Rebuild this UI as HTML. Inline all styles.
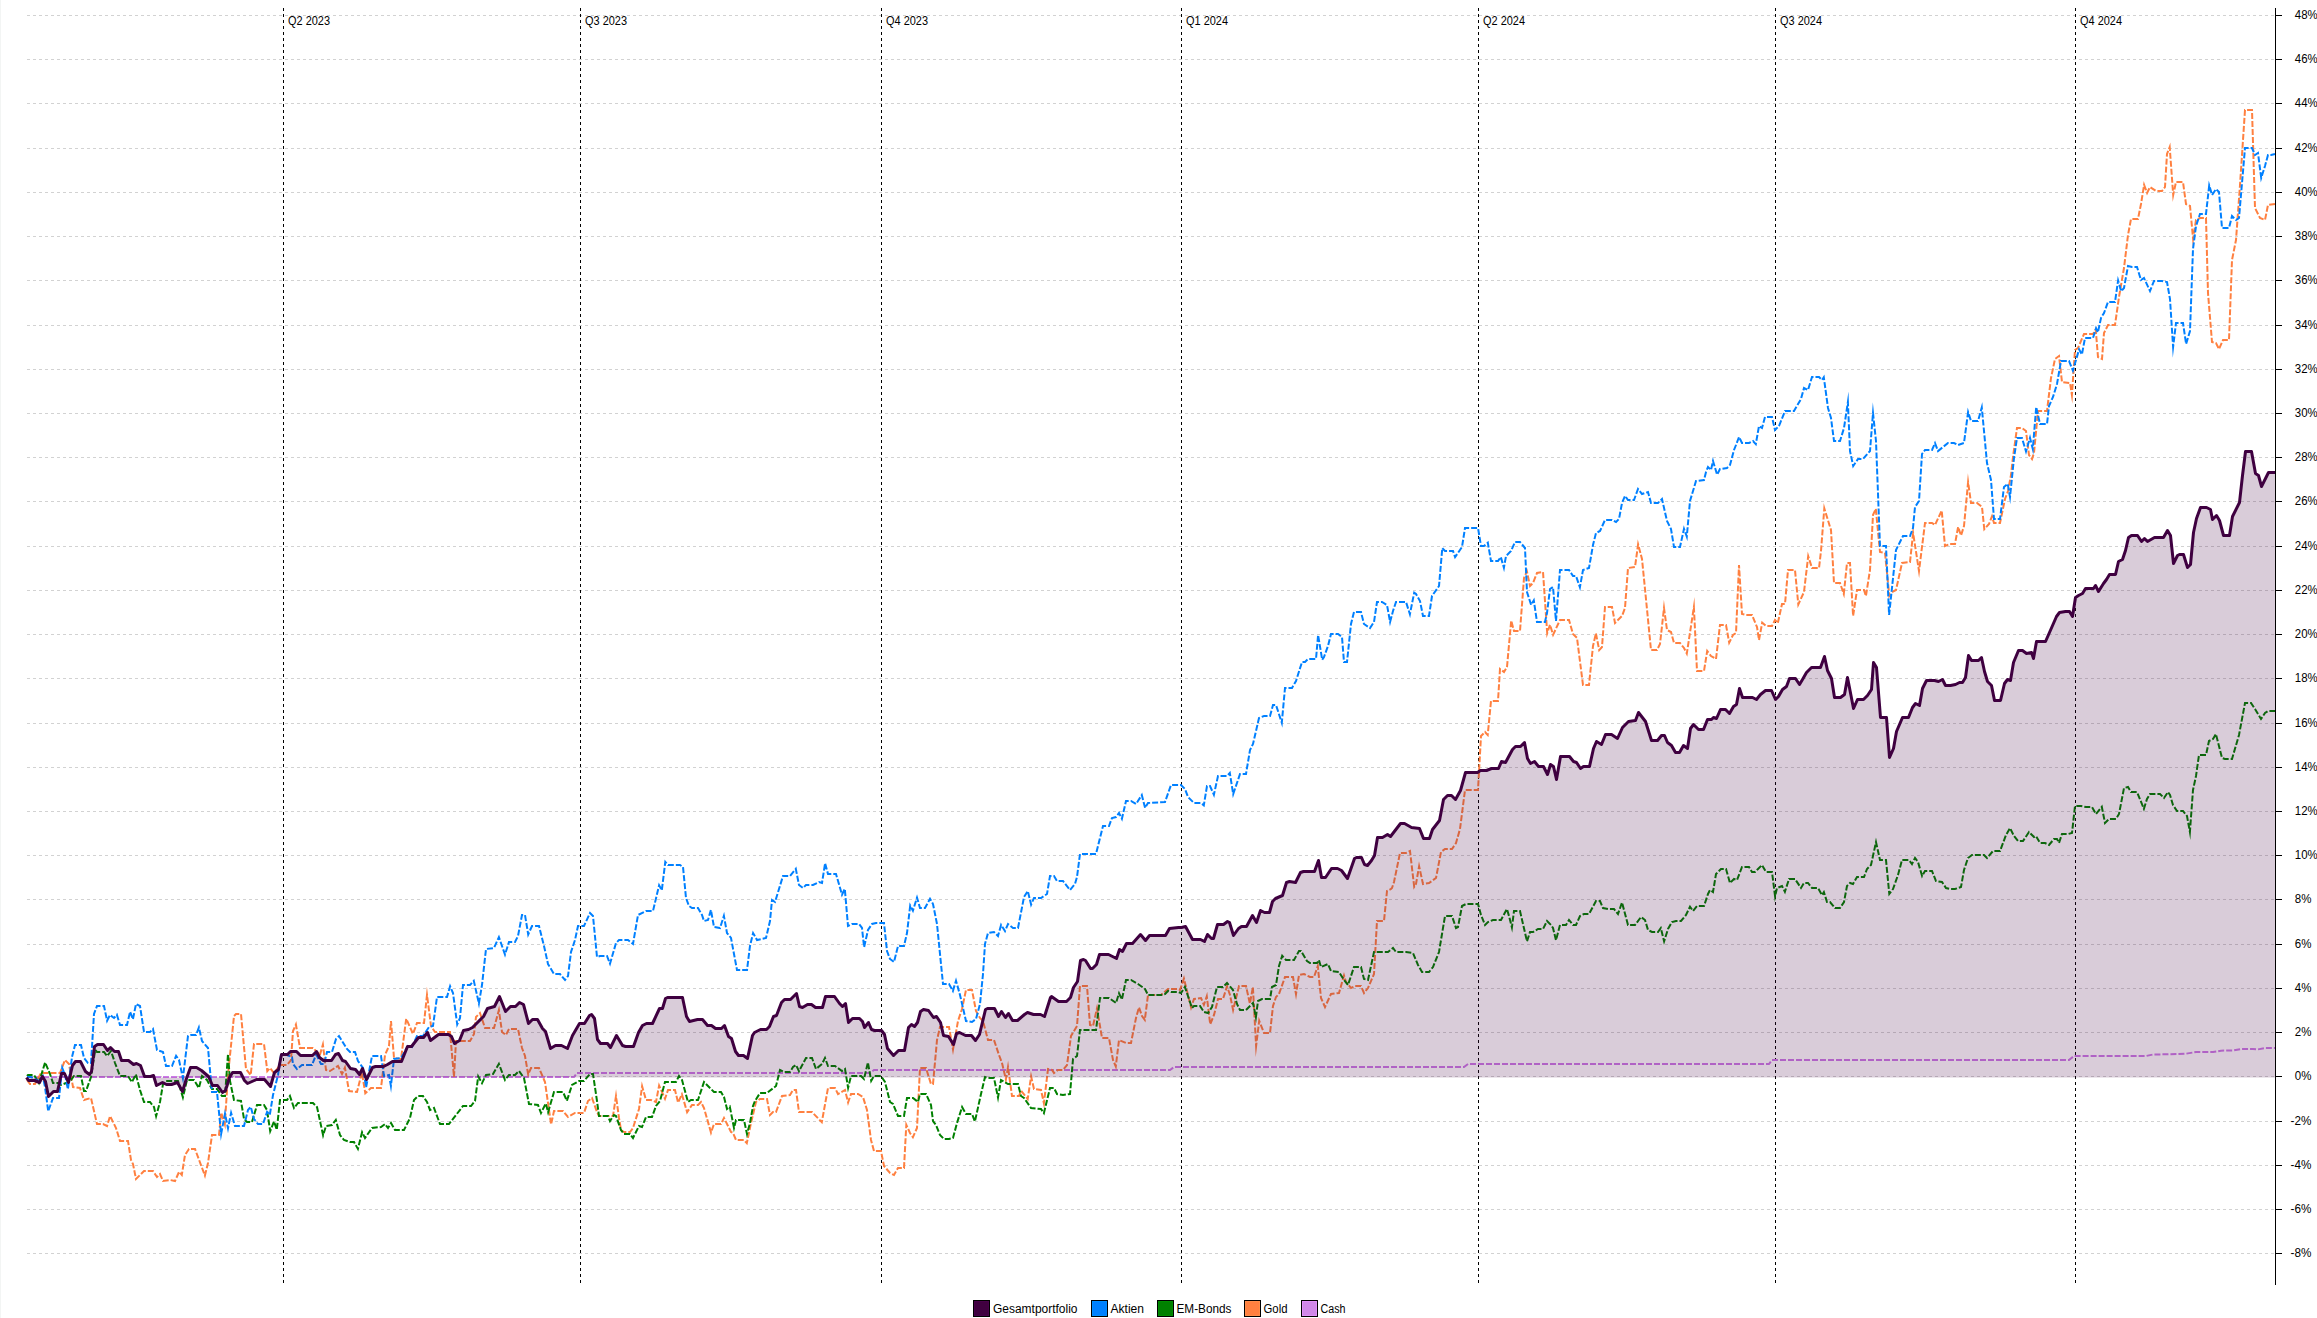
<!DOCTYPE html>
<html><head><meta charset="utf-8"><title>Performance</title>
<style>
html,body{margin:0;padding:0;background:#fff;}
body{width:2317px;height:1318px;overflow:hidden;font-family:"Liberation Sans",sans-serif;}
svg{display:block}
text{font-family:"Liberation Sans",sans-serif;font-size:12px;fill:#000}
.ser{fill:none;stroke-width:2;stroke-dasharray:6 2;stroke-linejoin:miter;stroke-miterlimit:12}
</style></head><body>
<svg width="2317" height="1318" viewBox="0 0 2317 1318">
<rect width="2317" height="1318" fill="#fff"/>
<rect x="0" y="0" width="1" height="1318" fill="#f3f5f4"/>

<g stroke="#d2d2d2" stroke-width="1" stroke-dasharray="3 3" shape-rendering="crispEdges">
<line x1="27" y1="15.5" x2="2275" y2="15.5"/>
<line x1="27" y1="59.5" x2="2275" y2="59.5"/>
<line x1="27" y1="103.5" x2="2275" y2="103.5"/>
<line x1="27" y1="148.5" x2="2275" y2="148.5"/>
<line x1="27" y1="192.5" x2="2275" y2="192.5"/>
<line x1="27" y1="236.5" x2="2275" y2="236.5"/>
<line x1="27" y1="280.5" x2="2275" y2="280.5"/>
<line x1="27" y1="325.5" x2="2275" y2="325.5"/>
<line x1="27" y1="369.5" x2="2275" y2="369.5"/>
<line x1="27" y1="413.5" x2="2275" y2="413.5"/>
<line x1="27" y1="457.5" x2="2275" y2="457.5"/>
<line x1="27" y1="501.5" x2="2275" y2="501.5"/>
<line x1="27" y1="546.5" x2="2275" y2="546.5"/>
<line x1="27" y1="590.5" x2="2275" y2="590.5"/>
<line x1="27" y1="634.5" x2="2275" y2="634.5"/>
<line x1="27" y1="678.5" x2="2275" y2="678.5"/>
<line x1="27" y1="723.5" x2="2275" y2="723.5"/>
<line x1="27" y1="767.5" x2="2275" y2="767.5"/>
<line x1="27" y1="811.5" x2="2275" y2="811.5"/>
<line x1="27" y1="855.5" x2="2275" y2="855.5"/>
<line x1="27" y1="899.5" x2="2275" y2="899.5"/>
<line x1="27" y1="944.5" x2="2275" y2="944.5"/>
<line x1="27" y1="988.5" x2="2275" y2="988.5"/>
<line x1="27" y1="1032.5" x2="2275" y2="1032.5"/>
<line x1="27" y1="1076.5" x2="2275" y2="1076.5"/>
<line x1="27" y1="1121.5" x2="2275" y2="1121.5"/>
<line x1="27" y1="1165.5" x2="2275" y2="1165.5"/>
<line x1="27" y1="1209.5" x2="2275" y2="1209.5"/>
<line x1="27" y1="1253.5" x2="2275" y2="1253.5"/>
</g>
<g stroke="#000" stroke-width="1" stroke-dasharray="3 3" shape-rendering="crispEdges">
<line x1="283.5" y1="8" x2="283.5" y2="1284"/>
<line x1="580.5" y1="8" x2="580.5" y2="1284"/>
<line x1="881.5" y1="8" x2="881.5" y2="1284"/>
<line x1="1181.5" y1="8" x2="1181.5" y2="1284"/>
<line x1="1478.5" y1="8" x2="1478.5" y2="1284"/>
<line x1="1775.5" y1="8" x2="1775.5" y2="1284"/>
<line x1="2075.5" y1="8" x2="2075.5" y2="1284"/>
</g>
<polyline class="ser" stroke="#cc7be6" points="27,1077 574,1077 577,1073 870,1073 874,1070 1170,1070 1174,1067 1464,1067 1468,1064 1769,1064 1772,1060 2069,1060 2074,1056 2146,1056 2153,1054.5 2168,1054.3 2186,1053.7 2196,1052 2213,1052 2221,1050.7 2233,1050.4 2241,1049 2253,1049 2258,1049.4 2265,1048 2275,1048"/>
<polyline class="ser" stroke="#ff8040" points="27,1080 30,1084 35,1084 41,1073 60,1073 65,1060 69,1064 73,1087 80,1088 84,1100 91,1098 97,1124 103,1124 107,1126 110.1,1116.1 116,1128 120,1141 128,1141 131,1160 133,1164 136,1179 144,1171 153,1171 157,1177 160,1174 163,1181 170,1180 175,1181 179.1,1171.8 181.8,1174.9 185,1155 189,1149 195,1149 204.9,1175.6 208,1163 212,1135 219,1135 221.2,1112.6 224.8,1124.2 228,1075 234,1016 236,1014 241,1014 246,1069 250.7,1075 254,1044 264,1044 267.3,1071.1 270,1068 274,1073 280,1065 287,1065 291,1060 293,1031 295.9,1024.5 300,1048 313,1048 317,1052 319.8,1055.2 322.9,1044.5 326,1070 330,1071 338,1066 342,1074 344.9,1067.6 349,1091 357,1092 361.9,1072.4 365.3,1093.2 371,1088 381,1088 385,1055 389,1046 391,1021 394,1058 401,1059 406.2,1018.7 413,1033.9 417,1023 424,1023 427,995 431,1026 435,1032 450,1032 454,1077 456,1041 470,1041 474,1034 476,1017 480,1013 485,1028 494,1028 498.9,1010.2 502,1032 506,1035 509,1029 518,1029 522,1048 525,1056 528.2,1074.5 531,1068 539,1068 545,1082 551.1,1124.4 554,1111 563,1111 568,1117 575,1113 584,1113 588,1101 592,1098 597,1112 599,1116 613,1116 616,1096 619,1118 621,1130 624,1132 630,1132 633,1128 639,1109 642.1,1086.2 646,1100 651,1100 656,1102 659.1,1085.5 665,1098.8 668,1090 675,1090 678.1,1102.6 681.9,1094.3 687.1,1112.1 692,1105 698,1105 701,1102 704,1108 711,1132.6 714,1124 721,1124 724,1117.9 731,1132 733,1133 736,1140 744,1140 746.8,1143.2 751,1123 756,1102 760,1099 767,1099 770,1115 773,1112 776,1112 782,1096 790,1095 793,1090 796,1090 799,1112 804,1112 812,1112 821.8,1122.2 828,1088 835,1088 838,1094 845,1090 848.1,1102.5 851,1094 858,1094 863,1097 867,1110 871,1140 874,1151 881,1151 884,1166 890,1173 894,1175 898,1168 904,1168 906.3,1124.8 910,1133 912.9,1137.2 917,1128 920,1068 926,1068 931,1084 933,1084 937,1040 940,1027 949,1027 953,1049.4 958,1021 962,1009 966,990 972,990 976,1011 980,1018 983,1021 988,1040 994,1040 999,1055 1002,1063 1005.9,1079.5 1008,1067 1012,1096 1019,1096 1021.1,1090.8 1027.7,1099 1031.1,1076.5 1034,1089 1041,1090 1043.9,1103.2 1048,1069 1052,1070 1054,1073 1058,1070 1063,1070 1067,1065 1071,1036 1077,1026 1080,986 1087,986 1090,1025 1093,1026 1097,1008.3 1102,1038 1109,1038 1113,1060 1115.8,1066.4 1119,1040 1126,1043 1131,1043 1136,1018 1139,1007.4 1142,1016 1144.8,1019.9 1148,995 1161,995 1168,989 1178,989 1180,990 1183.9,978.6 1191.1,1007.5 1194,999 1201,998 1203.9,1004.8 1206.8,996.3 1210.2,1024.2 1214,1015 1218,999 1223,999 1227,986.3 1230,995 1233.1,1010 1239,986 1246,986 1249.9,1003.6 1252.9,987 1256.1,1046 1259.2,1020.8 1264,1033 1270,1033 1273,1006 1276,997 1279,994 1285,977 1293,977 1296,994.2 1299,975 1304,974 1310,977 1314,977 1317.8,966.1 1321,998 1325,1007 1331,994 1339,993 1344,975.5 1346,982 1351,988 1355,986 1361,986 1364,993 1368,988 1374,974 1377,921 1384,921 1387,891 1391,889 1392,888 1394,882 1400,853 1406,853 1410,851 1414.2,886.8 1416,884 1419.1,866.3 1423,884 1429,883 1436,878 1441,852 1445,849 1452,849 1456,843 1460,829 1465,790 1469,790 1478,790 1481,736 1485,732 1487.7,735 1491,701 1498,701 1500,669 1504,672 1507,667 1511.2,620.6 1514,631 1520,631 1524,578 1526.9,571.4 1530,586 1533,583 1537,573 1543,572 1547.2,633.2 1550,624.7 1553.1,634.8 1560,620 1569,620 1573,634 1577,638 1583,685 1589,685 1593,646 1595.9,633.3 1599.2,650.1 1602,647 1605,607 1612,607 1615,623 1622,616 1625,608 1628,568 1635,567 1638.1,544.3 1642,559 1645,589 1651,650 1657,650 1660,644 1664,608 1667,630 1671,632 1674,643 1680,643 1684,648 1686.8,653.6 1693.9,607 1697,671 1704,671 1707.2,651 1711,656 1716,659 1720,625 1726,625 1729.2,642.7 1733,635 1736,633 1739,565 1742,614 1746,615 1752,615 1757,627 1759,640.1 1762.2,622.7 1766,626 1772,626 1775,620 1777.8,623.2 1782,604 1785,604 1788,570 1795,570 1798.3,604.4 1804,592 1808.2,556.1 1812,568 1819,568 1821,551 1824.3,508.4 1831,530 1834,583 1840,583 1843.8,594 1847,563 1850,563 1853.1,616 1857,590 1864,590 1865.9,596.1 1870,570 1873,515 1875.8,508.7 1880,552 1885,553 1889.3,595.9 1892,592 1896,590 1902,563 1910,562 1913.1,533 1919,571 1925,523 1932,523 1935,525 1941.7,510.6 1945,546 1950,544 1955,544 1958.1,526.9 1961,535.5 1964,526 1968.1,482 1971,503 1977,503 1982,507 1984.3,529.1 1989,524 1992,516.3 1994,523 1998,523 2000,523 2005,499 2008,491 2011,475 2013,457 2017,428 2022,428 2026,431 2029,455 2032,459 2034,453 2038,411 2047,411 2051,378 2055,359 2059,356 2062,382 2070,383 2071.9,395 2075,350 2078,348 2084,334 2093,334 2095.7,329.4 2098,357 2102,359 2104,333 2108,325 2115,325 2119,297 2124,268 2128,235 2131,219 2138,219 2141,204 2144.1,184.9 2147.1,192.9 2150,187 2156,191 2162,191 2165,187 2167,154 2169.7,147 2173.2,195 2176,182 2183,182 2186,204 2190,206 2193.1,239 2196,220 2200,218 2206,218 2208,293 2212,342 2216,343 2219,349.1 2223,340 2229,340 2232,260 2236,240 2240,185 2245,110 2252,110 2255,208 2260,218 2265,220 2268,205 2275,204"/>
<polyline class="ser" stroke="#008000" points="27,1076 28,1075 34,1075 38.9,1083 45.1,1062.3 50,1074 53,1083 58,1083 61,1085 66,1083 71,1080 74,1076 81,1076 84,1091 86,1091 91,1077 95.2,1049.9 97,1052 104,1052 107,1056 111,1051 115,1063 120,1076 128,1076 131.9,1082.2 135.9,1074.3 140,1090 144,1102 150,1102 154,1107 156.1,1116.2 160,1102 163,1084 166,1081 178,1081 182.9,1097.3 187,1080 194,1080 198.9,1088 202,1076 207,1080 212,1089 217,1089 222,1096 225,1096 228,1054 230,1081 234,1100 241,1101 244,1119 247,1122 252,1122 257,1105 264,1105 267,1110 270.2,1131.2 274,1121.4 276.8,1129.7 280,1100 287,1100 289.9,1095.9 294,1108 298,1103 313,1103 317,1107 323.1,1135.3 326,1126 332,1125 335.8,1119.9 340,1135 344,1140 350,1142 354,1142 357.9,1148.9 362.1,1132.2 365,1138 372,1128 381,1127 385,1124 388,1128 391,1123 395,1130 404,1130 408,1122 410,1118 414,1100 418,1096 423,1096 427,1102 430,1110 434,1108 440,1124 449,1124 463,1106 471,1106 475,1101 478.2,1076.4 482,1083.1 486,1075 493,1074 498.9,1063.9 505,1080 509,1075 515,1075 519,1071 524,1078 529,1104 538,1105 541,1113 545.8,1103.4 548.1,1112.2 554,1092 563,1092 566.9,1100.8 572,1085 579,1081 584,1081 590,1074 593,1074 597,1101 599,1116 608,1116 610,1121 614,1115 616,1116 621,1130 624,1134 630,1134 633,1138 639,1126 642,1127 646,1117 652,1117 656,1106 660,1101 665,1082 676,1082 679,1076 682,1080 688,1102 691,1100 698,1100 704,1082 714,1092 721,1092 724,1097 727,1109 729.8,1106.7 734,1127.9 736,1120 744,1120 747,1134.1 750,1123 753,1106 755,1101 760,1093 767,1093 776,1086 780,1070 784,1072 790,1072 793,1067 796,1065 799,1071.2 806,1058 812,1058 816,1069 822,1064 825,1058 828,1066 835,1066 842,1071 845,1069 848.1,1087.8 851,1076 861,1076 864,1079 867.9,1062.4 871.2,1080.8 874,1076 881,1076 885,1082 890,1102 893,1104 898,1116 904,1116 907,1098 913,1098 918,1102 920,1094 926,1094 931,1105 933,1121 936,1125 940,1135 944,1139 949,1139 953,1138 957,1123 962.1,1107 966,1114 972,1114 974.9,1121.5 981,1094 985,1077 988,1078 994,1078 998,1097.5 1001,1080 1008,1084 1018,1084 1021,1096 1024,1098 1031,1108 1041,1109 1043.9,1113.1 1050,1088 1054,1088 1057,1094 1063,1095 1070,1094 1073,1059 1077,1056 1080,1030 1096,1030 1100,998 1109,998 1116,1003 1119,993.3 1121.9,999.5 1126,980 1131,980 1138,984 1145,989 1148,995 1161,995 1165,994 1168,991 1171,992 1178,992 1181,993 1184.9,986.9 1192,1008 1194,1006 1200,1006 1204,1012 1208,1013 1212,1007 1217,987 1223,987 1227,983 1233,990 1237,1004 1240,1010 1246,1010 1253,1003 1255.9,1017.2 1258,1001 1262,999 1270,999 1272,987 1276,985 1279,966 1282.2,955.7 1286,960 1294,960 1299,951 1301,951 1307,961 1310,963 1317,963 1318.9,960 1321,967 1328,964 1331,971 1339,972 1344,980 1348,985 1354,967 1361,967 1364,979 1368,980 1374,952 1384,952 1388,952 1393,948 1396,952 1406,952 1413,953 1418,965 1422,972 1429,972 1433,967 1439,952 1445,916 1452,916 1456,928 1458,927 1462,906 1466,904 1470,904 1478,904 1481,915 1485,925 1488,922 1493,920 1501,920 1506.9,909 1509,916 1511.9,927.5 1514,911 1520,911 1527,941.4 1530,932 1533,932 1538,929 1543,929 1547,921 1551,925 1553,928 1556,940.2 1560,925 1566,925 1569,920 1573,925 1576,925 1580,916 1584,914 1589,914 1596,901 1600,901 1603,908 1608,909 1614,909 1618,914 1622,902.5 1628,925 1635,925 1641,917 1645,920 1648,930 1652,932 1658,932 1660.8,928 1664.1,941.3 1668,929 1672,922 1676,921 1681,921 1686,915 1690,906.7 1693,911 1697,906 1704,906 1708,894 1710,890 1713,892 1716,874 1721,869 1726,869 1730,883 1734,879 1737,880 1742,867 1749,867 1752,872 1755,872 1757,870 1762,865 1766,872 1772,872 1775.1,896.4 1777,888 1782,886 1784.9,891.9 1789,879 1795,879 1801,888 1804,883 1808,883 1812,888 1818,888 1822,895.2 1823.9,892.1 1827,902 1830,902 1835,908 1840,908 1844,902 1847,886 1850,883 1853,884 1857,877 1864,877 1867,869 1871,865 1876,842.1 1880,860 1886,860 1889.3,893.9 1893,889 1898,875 1902,860 1909,860 1912,864 1915,858 1918,862 1922.1,876 1925,871 1932,871 1936,881 1942,882 1946,888 1950,889 1955,889 1961,887 1964,870 1968,858 1972,855 1979,855 1984,855 1987,858 1993,851 2000,851 2006,835 2010,828 2014,836 2018,841 2023,841 2029,832 2034,837 2036,836 2040,843 2045,843 2049,845 2054,839 2057,839 2059,842.9 2062,834 2068,834 2072,833 2075,806 2081,806 2086,807 2092,807 2096,814 2101.8,806.9 2105,823 2109,819 2116,819 2119,814 2124,788 2128,787 2131,792 2137,792 2143.9,808.8 2147,799 2150,794 2160,794 2164,798 2168,792 2170,795 2173,805 2177,811 2183,811 2187,816 2189.9,832 2193,790 2196,776 2199,755 2206,755 2209,741 2213,739 2215.9,734.1 2222,758 2225,759 2232,759 2239,735 2245,703 2251,703 2255,709 2261,719 2265,713 2268,711 2275,711"/>
<polyline class="ser" stroke="#0080ff" points="27,1077 31,1077 39,1081 42.8,1076 45,1087 48.2,1111.2 53,1098 59,1098 62.2,1067.9 65,1075 67.9,1089.2 72,1057 75,1045 81,1045 84,1058 88,1063 91,1063 94,1014 97,1006 104,1006 107.1,1020.7 110,1015 114,1018 116.9,1014.8 120,1025 127,1025 130.1,1011.7 132.9,1019.3 136,1004 140,1006 144,1032 150,1032 153,1029 157,1050 163,1052 166,1066 172,1066 176.1,1055.8 179,1060 182.9,1078.2 188,1036 191,1035 196,1035 198.9,1027.5 202,1041 208,1048 212,1092 217,1092 221.1,1134 225,1113.7 228,1128.3 231.1,1112.9 235,1126 244,1126 248,1110 250.8,1106.8 254,1119 258,1124 263,1124 267.1,1111.9 269.8,1114.9 273,1095 278,1075 281,1055 287,1055 292,1057 293,1064 297,1069 302,1065 312,1065 316,1054.8 317,1056 321,1064 324,1064 327,1052 332,1052 336,1039 339,1036 347,1049 350,1052 355,1052 358,1061 363,1068 366.1,1087.3 372,1056 381,1056 384,1076 389,1075 390.9,1086 394,1059 401,1058 408,1046 412,1047 417,1036 423,1036 429,1027 433,1026 437,997 447,997 450.1,986.2 453,993 457.2,1024.4 460,1018 463,985 470,985 473.8,980.8 478.9,1003.5 482,985 486,949 494,948 498.9,937.1 505,954.6 509,942 515,942 518,936 522,915 525,915 528.2,934.5 532,926 539,926 544,946 548,964 554,974 560,974 565,980 568,976 571,952 575,940 578,926 584,926 590,913 593,916 597,957 600,956 607,956 610,963.7 616,943 619,940 628,940 633,944 638,915 646,911 653,911 659.1,885.3 661.8,890.3 665.3,861.9 668,865 680,865 683,867 686,898 689,906 692,908 698,908 702,915 704,921 708,920 710.9,909.9 714,927 720,928 723.9,915.8 727,933 731,938 737,970 747,970 750,946 753.1,933.1 757,940 766,938 770,921 772,900 775,902 783,876 790,876 795.8,868.9 799,885 803,888 806,885 813,885 819,882 822,883 825.1,863.2 828,874 836,874 842,894.7 844.8,888.9 848,926 852,924 859,924 862,928 864.1,947.2 868,930 872,924 876,923 884,923 887,951 890,959 894,962 898,946 904,946 907,933 910.2,905.6 912.9,910.7 917,897.6 920,908 925,908 930,898.8 933,904 937,924 943,984 949,984 952.9,990.9 956,980.7 960,995 966,1021 972,1022 976,1019 980,1004 983,974 985,944 988,933 994,932 998,936 1001.1,925 1005,931.1 1008,924 1013,928 1018,928 1024,897 1027.8,891 1031.1,904.6 1034,898 1041,898 1047,894 1050,876 1054,876 1057,881 1063,881 1070,890 1075,884 1077,877 1080,854 1096,854 1103,826 1109,826 1112,818 1116,817 1119,813 1121.9,818.8 1126,801 1131,801 1136,804 1141.8,795 1145.1,807.9 1148,803 1165,802 1171,785 1178,785 1181,785 1185,789 1188,797 1194,803 1201,803 1203.8,805.3 1207,786 1210,786 1213.9,794.7 1218,776 1227,776 1229.8,772.9 1233.2,794.1 1240,774 1246,774 1250,750 1253,744 1259,718 1264,716 1270,716 1273,705 1276,705 1281.8,722.8 1285,688 1292,688 1296,681 1302,662 1305,662 1308,659 1316,659 1318.1,635 1322.2,659.8 1324,657 1328,646 1331,634 1338,634 1342,637 1344,662 1347,662 1351,624 1354,612 1361,612 1364,624 1370,628 1374,622 1377,602 1382,602 1387,605 1390.1,622 1393,611 1396,602 1402,602 1406,602 1409.9,614.2 1414.2,592.7 1416,594 1420,601 1423,616 1429,616 1432,596 1439,586 1442.3,548 1445,551 1453,551 1455.1,557.1 1462,547 1465,528 1469,528 1478,528 1481,546 1484,546 1487.8,542.7 1491,561 1498,561 1500.8,557 1503.9,567.8 1506,556 1511,551 1515,542 1520,542 1525,548 1527,592 1531.1,604.9 1533.8,600.4 1537,622 1545,622 1547,613 1550,589 1553,587 1556,621 1560,570 1569,570 1573,576 1576,576 1579.9,587.3 1583,570 1589,568 1593,545 1596,533 1600,531 1605,520 1612,520 1616,522 1619,519 1622,503 1625,496 1628,500 1634,500 1638,489 1642,494 1648,492 1651,503 1658,503 1662,499 1667,521 1671,529 1674,547 1680,547 1684,528.8 1686.8,536.6 1690,501 1696,481 1704,480 1706,472 1708,467 1711,470 1713,460.9 1717.1,474.8 1720,469 1727,468 1730,465 1734,450 1736,445 1739,437 1742,443 1749,443 1753,441 1755.8,444.1 1759,426 1762,428 1765,417 1772,417 1775,430 1779,426 1785,411 1794,411 1801,399 1804,388 1808,390 1812,377 1819,377 1822,380 1823.8,377.2 1828,408 1831,418 1834,441 1840,441 1844,428 1847.9,402 1850,451 1853.2,466 1858,459 1863,459 1870,451 1873,413 1876,441 1880,546 1886,546 1889.1,615 1896,550 1903,536 1910,536 1913,528 1915,507 1919,501 1922,454 1925,450 1932,450 1935,443.1 1938,451 1948,443 1954,443 1958,445 1964,443 1968.1,412 1971,421 1978,421 1981.8,407.5 1987,463 1991,480 1994,519 1998,519 2000,519 2004,487 2007.7,483.8 2010,497 2014,458 2017,438 2022,438 2026,451.4 2030,437.9 2032.8,449 2036.2,407 2040,424 2047,424 2049,406 2053,397 2057,384 2061,361 2069,361 2072.9,370.7 2079.1,349.3 2081.9,354.6 2085,338 2093,338 2096,328.3 2097.9,332.4 2101,318 2104,313 2108,302 2115,302 2118.1,280.4 2121.2,291.2 2124,288 2128,266 2132,267 2137,267 2141,280 2144,278 2150,291 2154,281 2162,281 2167,282 2170,299 2173.1,347 2176,323 2183,323 2186.1,344 2190,331 2193,249 2196,226 2200,214 2206,214 2209.2,185.4 2212.1,195 2216,189 2219,192 2222,228 2229,228 2232,216 2236,220 2239,218 2242,183 2245,148 2252,148 2255,155 2258,153 2261.2,177.9 2265,166 2268,155 2271,155 2275,154"/>
<polygon fill="rgba(63,0,64,0.2)" points="26.5,1077.5 28.5,1080.5 34.5,1080.5 39.5,1082.5 42.5,1076.5 45.5,1081.5 48.5,1096.5 53.5,1091.5 57.5,1091.5 61.5,1073.5 64.5,1073.5 68.5,1082.5 72.5,1065.5 75.5,1061.5 80.5,1061.5 85.5,1071.5 89.5,1074.5 91.5,1071.5 94.5,1046.5 97.5,1044.5 103.5,1044.5 107.5,1050.5 110.5,1047.5 114.5,1051.5 118.5,1051.5 121.5,1060.5 128.5,1060.5 133.5,1064.5 136.5,1063.5 140.5,1065.5 144.5,1076.5 150.5,1076.5 153.5,1075.5 156.5,1085.5 162.5,1082.5 166.5,1084.5 171.5,1084.5 177.5,1082.5 182.5,1091.5 186.5,1078.5 190.5,1067.5 196.5,1067.5 201.5,1070.5 208.5,1076.5 212.5,1085.5 217.5,1085.5 222.5,1092.5 225.5,1090.5 229.5,1077.5 232.5,1072.5 240.5,1072.5 244.5,1080.5 247.5,1083.5 256.5,1079.5 264.5,1079.5 270.5,1086.5 274.5,1072.5 278.5,1069.5 281.5,1054.5 287.5,1054.5 290.5,1051.5 296.5,1051.5 300.5,1055.5 312.5,1055.5 316.5,1051.5 319.5,1057.5 323.5,1060.5 331.5,1060.5 335.5,1054.5 338.5,1053.5 342.5,1060.5 345.5,1061.5 350.5,1068.5 355.5,1069.5 359.5,1074.5 362.5,1068.5 366.5,1079.5 372.5,1067.5 375.5,1066.5 383.5,1066.5 387.5,1064.5 392.5,1061.5 401.5,1061.5 407.5,1046.5 411.5,1046.5 418.5,1037.5 423.5,1037.5 427.5,1032.5 430.5,1040.5 438.5,1034.5 448.5,1034.5 451.5,1036.5 454.5,1043.5 459.5,1040.5 463.5,1030.5 468.5,1029.5 472.5,1027.5 483.5,1016.5 487.5,1008.5 494.5,1006.5 499.5,996.5 505.5,1011.5 510.5,1006.5 515.5,1006.5 519.5,1002.5 523.5,1004.5 528.5,1023.5 532.5,1019.5 537.5,1019.5 542.5,1028.5 545.5,1031.5 550.5,1048.5 555.5,1045.5 561.5,1045.5 567.5,1048.5 572.5,1035.5 579.5,1023.5 584.5,1023.5 589.5,1015.5 591.5,1014.5 594.5,1018.5 597.5,1039.5 600.5,1043.5 607.5,1043.5 610.5,1047.5 616.5,1035.5 622.5,1045.5 625.5,1046.5 633.5,1046.5 638.5,1032.5 642.5,1025.5 646.5,1023.5 652.5,1023.5 659.5,1008.5 662.5,1008.5 665.5,998.5 667.5,997.5 676.5,997.5 682.5,997.5 686.5,1016.5 689.5,1021.5 697.5,1019.5 702.5,1019.5 707.5,1025.5 711.5,1025.5 715.5,1028.5 721.5,1028.5 724.5,1025.5 728.5,1036.5 731.5,1038.5 735.5,1051.5 738.5,1055.5 743.5,1055.5 747.5,1058.5 752.5,1035.5 754.5,1032.5 760.5,1029.5 766.5,1029.5 769.5,1026.5 773.5,1016.5 776.5,1015.5 781.5,1002.5 784.5,999.5 790.5,999.5 796.5,993.5 799.5,1006.5 802.5,1007.5 807.5,1004.5 811.5,1004.5 815.5,1007.5 822.5,1007.5 825.5,996.5 834.5,996.5 839.5,1003.5 842.5,1006.5 845.5,1003.5 848.5,1022.5 852.5,1018.5 859.5,1018.5 862.5,1021.5 864.5,1027.5 868.5,1022.5 871.5,1029.5 874.5,1030.5 881.5,1030.5 884.5,1034.5 887.5,1048.5 893.5,1055.5 898.5,1050.5 904.5,1050.5 908.5,1027.5 911.5,1024.5 914.5,1026.5 917.5,1022.5 920.5,1011.5 923.5,1009.5 928.5,1010.5 933.5,1017.5 936.5,1016.5 940.5,1022.5 943.5,1035.5 948.5,1036.5 953.5,1044.5 956.5,1033.5 959.5,1032.5 965.5,1035.5 971.5,1035.5 975.5,1040.5 979.5,1034.5 985.5,1009.5 987.5,1008.5 994.5,1008.5 998.5,1016.5 1001.5,1011.5 1005.5,1017.5 1008.5,1013.5 1012.5,1020.5 1017.5,1020.5 1024.5,1014.5 1027.5,1012.5 1033.5,1014.5 1040.5,1014.5 1044.5,1016.5 1050.5,997.5 1051.5,996.5 1058.5,1001.5 1066.5,1001.5 1070.5,997.5 1073.5,987.5 1077.5,981.5 1080.5,960.5 1083.5,959.5 1085.5,960.5 1090.5,968.5 1092.5,968.5 1096.5,964.5 1099.5,954.5 1108.5,954.5 1116.5,958.5 1119.5,949.5 1122.5,951.5 1126.5,943.5 1132.5,943.5 1140.5,934.5 1145.5,940.5 1149.5,935.5 1165.5,935.5 1169.5,928.5 1178.5,927.5 1181.5,927.5 1185.5,926.5 1192.5,939.5 1200.5,939.5 1204.5,941.5 1207.5,934.5 1211.5,938.5 1213.5,938.5 1217.5,924.5 1223.5,924.5 1227.5,921.5 1229.5,922.5 1233.5,935.5 1238.5,928.5 1241.5,926.5 1246.5,926.5 1252.5,915.5 1256.5,922.5 1260.5,910.5 1264.5,912.5 1269.5,912.5 1272.5,901.5 1275.5,898.5 1282.5,895.5 1286.5,882.5 1289.5,881.5 1295.5,882.5 1300.5,872.5 1303.5,871.5 1314.5,871.5 1318.5,860.5 1321.5,877.5 1325.5,877.5 1331.5,868.5 1337.5,868.5 1341.5,870.5 1347.5,878.5 1354.5,858.5 1356.5,857.5 1361.5,857.5 1364.5,864.5 1367.5,865.5 1371.5,860.5 1374.5,855.5 1377.5,837.5 1382.5,837.5 1387.5,834.5 1390.5,836.5 1400.5,823.5 1404.5,823.5 1411.5,827.5 1419.5,828.5 1423.5,838.5 1429.5,838.5 1432.5,829.5 1439.5,820.5 1443.5,799.5 1447.5,795.5 1451.5,795.5 1455.5,799.5 1460.5,790.5 1465.5,772.5 1469.5,772.5 1477.5,772.5 1480.5,770.5 1486.5,770.5 1491.5,768.5 1498.5,768.5 1501.5,761.5 1505.5,762.5 1512.5,749.5 1515.5,746.5 1520.5,746.5 1524.5,742.5 1527.5,758.5 1530.5,763.5 1534.5,761.5 1538.5,766.5 1543.5,766.5 1547.5,774.5 1550.5,764.5 1553.5,766.5 1556.5,779.5 1560.5,756.5 1569.5,756.5 1573.5,761.5 1576.5,762.5 1580.5,768.5 1583.5,766.5 1589.5,766.5 1593.5,748.5 1596.5,741.5 1601.5,744.5 1605.5,734.5 1611.5,734.5 1617.5,738.5 1622.5,727.5 1628.5,721.5 1635.5,720.5 1638.5,712.5 1645.5,721.5 1651.5,740.5 1657.5,740.5 1661.5,735.5 1664.5,735.5 1667.5,742.5 1671.5,745.5 1675.5,752.5 1679.5,752.5 1683.5,745.5 1687.5,748.5 1690.5,728.5 1693.5,724.5 1698.5,729.5 1703.5,729.5 1707.5,719.5 1711.5,719.5 1713.5,717.5 1716.5,718.5 1720.5,709.5 1725.5,709.5 1729.5,713.5 1733.5,706.5 1736.5,704.5 1739.5,688.5 1742.5,697.5 1752.5,697.5 1756.5,699.5 1760.5,694.5 1765.5,690.5 1771.5,690.5 1775.5,699.5 1778.5,696.5 1782.5,689.5 1786.5,686.5 1789.5,678.5 1795.5,678.5 1799.5,684.5 1802.5,679.5 1806.5,672.5 1811.5,667.5 1820.5,667.5 1824.5,656.5 1827.5,670.5 1831.5,678.5 1834.5,697.5 1840.5,697.5 1844.5,694.5 1847.5,677.5 1853.5,708.5 1857.5,699.5 1863.5,699.5 1867.5,695.5 1871.5,689.5 1873.5,662.5 1876.5,667.5 1880.5,717.5 1886.5,717.5 1889.5,757.5 1893.5,748.5 1896.5,731.5 1902.5,717.5 1908.5,717.5 1912.5,707.5 1915.5,703.5 1919.5,705.5 1922.5,688.5 1926.5,680.5 1934.5,680.5 1938.5,681.5 1942.5,679.5 1945.5,685.5 1950.5,685.5 1955.5,684.5 1959.5,682.5 1962.5,682.5 1965.5,677.5 1968.5,655.5 1971.5,660.5 1978.5,660.5 1981.5,657.5 1984.5,671.5 1987.5,681.5 1991.5,685.5 1994.5,700.5 2000.5,700.5 2004.5,683.5 2007.5,679.5 2010.5,680.5 2013.5,662.5 2018.5,650.5 2022.5,650.5 2026.5,653.5 2031.5,652.5 2033.5,658.5 2036.5,641.5 2039.5,641.5 2045.5,641.5 2049.5,632.5 2056.5,616.5 2059.5,612.5 2065.5,611.5 2069.5,611.5 2072.5,616.5 2075.5,597.5 2078.5,595.5 2082.5,593.5 2085.5,588.5 2093.5,588.5 2095.5,585.5 2098.5,591.5 2103.5,583.5 2106.5,579.5 2109.5,574.5 2115.5,574.5 2118.5,561.5 2122.5,559.5 2125.5,550.5 2128.5,537.5 2131.5,535.5 2137.5,535.5 2141.5,541.5 2144.5,538.5 2147.5,541.5 2154.5,537.5 2163.5,537.5 2167.5,530.5 2170.5,535.5 2173.5,563.5 2177.5,555.5 2179.5,554.5 2183.5,554.5 2187.5,567.5 2190.5,564.5 2193.5,532.5 2196.5,518.5 2200.5,507.5 2206.5,507.5 2210.5,509.5 2212.5,519.5 2216.5,515.5 2219.5,520.5 2223.5,535.5 2229.5,535.5 2232.5,516.5 2239.5,502.5 2242.5,475.5 2245.5,451.5 2251.5,451.5 2255.5,473.5 2258.5,475.5 2261.5,486.5 2268.5,472.5 2275.5,472.5 2275.5,1077.5 26.5,1077.5"/>
<polyline fill="none" stroke="#3f0040" stroke-width="3" stroke-linejoin="round" stroke-linecap="butt" points="26.5,1077.5 28.5,1080.5 34.5,1080.5 39.5,1082.5 42.5,1076.5 45.5,1081.5 48.5,1096.5 53.5,1091.5 57.5,1091.5 61.5,1073.5 64.5,1073.5 68.5,1082.5 72.5,1065.5 75.5,1061.5 80.5,1061.5 85.5,1071.5 89.5,1074.5 91.5,1071.5 94.5,1046.5 97.5,1044.5 103.5,1044.5 107.5,1050.5 110.5,1047.5 114.5,1051.5 118.5,1051.5 121.5,1060.5 128.5,1060.5 133.5,1064.5 136.5,1063.5 140.5,1065.5 144.5,1076.5 150.5,1076.5 153.5,1075.5 156.5,1085.5 162.5,1082.5 166.5,1084.5 171.5,1084.5 177.5,1082.5 182.5,1091.5 186.5,1078.5 190.5,1067.5 196.5,1067.5 201.5,1070.5 208.5,1076.5 212.5,1085.5 217.5,1085.5 222.5,1092.5 225.5,1090.5 229.5,1077.5 232.5,1072.5 240.5,1072.5 244.5,1080.5 247.5,1083.5 256.5,1079.5 264.5,1079.5 270.5,1086.5 274.5,1072.5 278.5,1069.5 281.5,1054.5 287.5,1054.5 290.5,1051.5 296.5,1051.5 300.5,1055.5 312.5,1055.5 316.5,1051.5 319.5,1057.5 323.5,1060.5 331.5,1060.5 335.5,1054.5 338.5,1053.5 342.5,1060.5 345.5,1061.5 350.5,1068.5 355.5,1069.5 359.5,1074.5 362.5,1068.5 366.5,1079.5 372.5,1067.5 375.5,1066.5 383.5,1066.5 387.5,1064.5 392.5,1061.5 401.5,1061.5 407.5,1046.5 411.5,1046.5 418.5,1037.5 423.5,1037.5 427.5,1032.5 430.5,1040.5 438.5,1034.5 448.5,1034.5 451.5,1036.5 454.5,1043.5 459.5,1040.5 463.5,1030.5 468.5,1029.5 472.5,1027.5 483.5,1016.5 487.5,1008.5 494.5,1006.5 499.5,996.5 505.5,1011.5 510.5,1006.5 515.5,1006.5 519.5,1002.5 523.5,1004.5 528.5,1023.5 532.5,1019.5 537.5,1019.5 542.5,1028.5 545.5,1031.5 550.5,1048.5 555.5,1045.5 561.5,1045.5 567.5,1048.5 572.5,1035.5 579.5,1023.5 584.5,1023.5 589.5,1015.5 591.5,1014.5 594.5,1018.5 597.5,1039.5 600.5,1043.5 607.5,1043.5 610.5,1047.5 616.5,1035.5 622.5,1045.5 625.5,1046.5 633.5,1046.5 638.5,1032.5 642.5,1025.5 646.5,1023.5 652.5,1023.5 659.5,1008.5 662.5,1008.5 665.5,998.5 667.5,997.5 676.5,997.5 682.5,997.5 686.5,1016.5 689.5,1021.5 697.5,1019.5 702.5,1019.5 707.5,1025.5 711.5,1025.5 715.5,1028.5 721.5,1028.5 724.5,1025.5 728.5,1036.5 731.5,1038.5 735.5,1051.5 738.5,1055.5 743.5,1055.5 747.5,1058.5 752.5,1035.5 754.5,1032.5 760.5,1029.5 766.5,1029.5 769.5,1026.5 773.5,1016.5 776.5,1015.5 781.5,1002.5 784.5,999.5 790.5,999.5 796.5,993.5 799.5,1006.5 802.5,1007.5 807.5,1004.5 811.5,1004.5 815.5,1007.5 822.5,1007.5 825.5,996.5 834.5,996.5 839.5,1003.5 842.5,1006.5 845.5,1003.5 848.5,1022.5 852.5,1018.5 859.5,1018.5 862.5,1021.5 864.5,1027.5 868.5,1022.5 871.5,1029.5 874.5,1030.5 881.5,1030.5 884.5,1034.5 887.5,1048.5 893.5,1055.5 898.5,1050.5 904.5,1050.5 908.5,1027.5 911.5,1024.5 914.5,1026.5 917.5,1022.5 920.5,1011.5 923.5,1009.5 928.5,1010.5 933.5,1017.5 936.5,1016.5 940.5,1022.5 943.5,1035.5 948.5,1036.5 953.5,1044.5 956.5,1033.5 959.5,1032.5 965.5,1035.5 971.5,1035.5 975.5,1040.5 979.5,1034.5 985.5,1009.5 987.5,1008.5 994.5,1008.5 998.5,1016.5 1001.5,1011.5 1005.5,1017.5 1008.5,1013.5 1012.5,1020.5 1017.5,1020.5 1024.5,1014.5 1027.5,1012.5 1033.5,1014.5 1040.5,1014.5 1044.5,1016.5 1050.5,997.5 1051.5,996.5 1058.5,1001.5 1066.5,1001.5 1070.5,997.5 1073.5,987.5 1077.5,981.5 1080.5,960.5 1083.5,959.5 1085.5,960.5 1090.5,968.5 1092.5,968.5 1096.5,964.5 1099.5,954.5 1108.5,954.5 1116.5,958.5 1119.5,949.5 1122.5,951.5 1126.5,943.5 1132.5,943.5 1140.5,934.5 1145.5,940.5 1149.5,935.5 1165.5,935.5 1169.5,928.5 1178.5,927.5 1181.5,927.5 1185.5,926.5 1192.5,939.5 1200.5,939.5 1204.5,941.5 1207.5,934.5 1211.5,938.5 1213.5,938.5 1217.5,924.5 1223.5,924.5 1227.5,921.5 1229.5,922.5 1233.5,935.5 1238.5,928.5 1241.5,926.5 1246.5,926.5 1252.5,915.5 1256.5,922.5 1260.5,910.5 1264.5,912.5 1269.5,912.5 1272.5,901.5 1275.5,898.5 1282.5,895.5 1286.5,882.5 1289.5,881.5 1295.5,882.5 1300.5,872.5 1303.5,871.5 1314.5,871.5 1318.5,860.5 1321.5,877.5 1325.5,877.5 1331.5,868.5 1337.5,868.5 1341.5,870.5 1347.5,878.5 1354.5,858.5 1356.5,857.5 1361.5,857.5 1364.5,864.5 1367.5,865.5 1371.5,860.5 1374.5,855.5 1377.5,837.5 1382.5,837.5 1387.5,834.5 1390.5,836.5 1400.5,823.5 1404.5,823.5 1411.5,827.5 1419.5,828.5 1423.5,838.5 1429.5,838.5 1432.5,829.5 1439.5,820.5 1443.5,799.5 1447.5,795.5 1451.5,795.5 1455.5,799.5 1460.5,790.5 1465.5,772.5 1469.5,772.5 1477.5,772.5 1480.5,770.5 1486.5,770.5 1491.5,768.5 1498.5,768.5 1501.5,761.5 1505.5,762.5 1512.5,749.5 1515.5,746.5 1520.5,746.5 1524.5,742.5 1527.5,758.5 1530.5,763.5 1534.5,761.5 1538.5,766.5 1543.5,766.5 1547.5,774.5 1550.5,764.5 1553.5,766.5 1556.5,779.5 1560.5,756.5 1569.5,756.5 1573.5,761.5 1576.5,762.5 1580.5,768.5 1583.5,766.5 1589.5,766.5 1593.5,748.5 1596.5,741.5 1601.5,744.5 1605.5,734.5 1611.5,734.5 1617.5,738.5 1622.5,727.5 1628.5,721.5 1635.5,720.5 1638.5,712.5 1645.5,721.5 1651.5,740.5 1657.5,740.5 1661.5,735.5 1664.5,735.5 1667.5,742.5 1671.5,745.5 1675.5,752.5 1679.5,752.5 1683.5,745.5 1687.5,748.5 1690.5,728.5 1693.5,724.5 1698.5,729.5 1703.5,729.5 1707.5,719.5 1711.5,719.5 1713.5,717.5 1716.5,718.5 1720.5,709.5 1725.5,709.5 1729.5,713.5 1733.5,706.5 1736.5,704.5 1739.5,688.5 1742.5,697.5 1752.5,697.5 1756.5,699.5 1760.5,694.5 1765.5,690.5 1771.5,690.5 1775.5,699.5 1778.5,696.5 1782.5,689.5 1786.5,686.5 1789.5,678.5 1795.5,678.5 1799.5,684.5 1802.5,679.5 1806.5,672.5 1811.5,667.5 1820.5,667.5 1824.5,656.5 1827.5,670.5 1831.5,678.5 1834.5,697.5 1840.5,697.5 1844.5,694.5 1847.5,677.5 1853.5,708.5 1857.5,699.5 1863.5,699.5 1867.5,695.5 1871.5,689.5 1873.5,662.5 1876.5,667.5 1880.5,717.5 1886.5,717.5 1889.5,757.5 1893.5,748.5 1896.5,731.5 1902.5,717.5 1908.5,717.5 1912.5,707.5 1915.5,703.5 1919.5,705.5 1922.5,688.5 1926.5,680.5 1934.5,680.5 1938.5,681.5 1942.5,679.5 1945.5,685.5 1950.5,685.5 1955.5,684.5 1959.5,682.5 1962.5,682.5 1965.5,677.5 1968.5,655.5 1971.5,660.5 1978.5,660.5 1981.5,657.5 1984.5,671.5 1987.5,681.5 1991.5,685.5 1994.5,700.5 2000.5,700.5 2004.5,683.5 2007.5,679.5 2010.5,680.5 2013.5,662.5 2018.5,650.5 2022.5,650.5 2026.5,653.5 2031.5,652.5 2033.5,658.5 2036.5,641.5 2039.5,641.5 2045.5,641.5 2049.5,632.5 2056.5,616.5 2059.5,612.5 2065.5,611.5 2069.5,611.5 2072.5,616.5 2075.5,597.5 2078.5,595.5 2082.5,593.5 2085.5,588.5 2093.5,588.5 2095.5,585.5 2098.5,591.5 2103.5,583.5 2106.5,579.5 2109.5,574.5 2115.5,574.5 2118.5,561.5 2122.5,559.5 2125.5,550.5 2128.5,537.5 2131.5,535.5 2137.5,535.5 2141.5,541.5 2144.5,538.5 2147.5,541.5 2154.5,537.5 2163.5,537.5 2167.5,530.5 2170.5,535.5 2173.5,563.5 2177.5,555.5 2179.5,554.5 2183.5,554.5 2187.5,567.5 2190.5,564.5 2193.5,532.5 2196.5,518.5 2200.5,507.5 2206.5,507.5 2210.5,509.5 2212.5,519.5 2216.5,515.5 2219.5,520.5 2223.5,535.5 2229.5,535.5 2232.5,516.5 2239.5,502.5 2242.5,475.5 2245.5,451.5 2251.5,451.5 2255.5,473.5 2258.5,475.5 2261.5,486.5 2268.5,472.5 2275.5,472.5"/>
<text x="288.0" y="25" textLength="42" lengthAdjust="spacingAndGlyphs">Q2 2023</text>
<text x="585.0" y="25" textLength="42" lengthAdjust="spacingAndGlyphs">Q3 2023</text>
<text x="886.0" y="25" textLength="42" lengthAdjust="spacingAndGlyphs">Q4 2023</text>
<text x="1186.0" y="25" textLength="42" lengthAdjust="spacingAndGlyphs">Q1 2024</text>
<text x="1483.0" y="25" textLength="42" lengthAdjust="spacingAndGlyphs">Q2 2024</text>
<text x="1780.0" y="25" textLength="42" lengthAdjust="spacingAndGlyphs">Q3 2024</text>
<text x="2080.0" y="25" textLength="42" lengthAdjust="spacingAndGlyphs">Q4 2024</text>
<g stroke="#000" stroke-width="1" shape-rendering="crispEdges">
<line x1="2275.5" y1="8" x2="2275.5" y2="1285"/>
<line x1="2275" y1="15.5" x2="2282" y2="15.5"/>
<line x1="2275" y1="59.5" x2="2282" y2="59.5"/>
<line x1="2275" y1="103.5" x2="2282" y2="103.5"/>
<line x1="2275" y1="148.5" x2="2282" y2="148.5"/>
<line x1="2275" y1="192.5" x2="2282" y2="192.5"/>
<line x1="2275" y1="236.5" x2="2282" y2="236.5"/>
<line x1="2275" y1="280.5" x2="2282" y2="280.5"/>
<line x1="2275" y1="325.5" x2="2282" y2="325.5"/>
<line x1="2275" y1="369.5" x2="2282" y2="369.5"/>
<line x1="2275" y1="413.5" x2="2282" y2="413.5"/>
<line x1="2275" y1="457.5" x2="2282" y2="457.5"/>
<line x1="2275" y1="501.5" x2="2282" y2="501.5"/>
<line x1="2275" y1="546.5" x2="2282" y2="546.5"/>
<line x1="2275" y1="590.5" x2="2282" y2="590.5"/>
<line x1="2275" y1="634.5" x2="2282" y2="634.5"/>
<line x1="2275" y1="678.5" x2="2282" y2="678.5"/>
<line x1="2275" y1="723.5" x2="2282" y2="723.5"/>
<line x1="2275" y1="767.5" x2="2282" y2="767.5"/>
<line x1="2275" y1="811.5" x2="2282" y2="811.5"/>
<line x1="2275" y1="855.5" x2="2282" y2="855.5"/>
<line x1="2275" y1="899.5" x2="2282" y2="899.5"/>
<line x1="2275" y1="944.5" x2="2282" y2="944.5"/>
<line x1="2275" y1="988.5" x2="2282" y2="988.5"/>
<line x1="2275" y1="1032.5" x2="2282" y2="1032.5"/>
<line x1="2275" y1="1076.5" x2="2282" y2="1076.5"/>
<line x1="2275" y1="1121.5" x2="2282" y2="1121.5"/>
<line x1="2275" y1="1165.5" x2="2282" y2="1165.5"/>
<line x1="2275" y1="1209.5" x2="2282" y2="1209.5"/>
<line x1="2275" y1="1253.5" x2="2282" y2="1253.5"/>
</g>
<text x="2294.8" y="19.0" textLength="22.9" lengthAdjust="spacingAndGlyphs">48%</text>
<text x="2294.8" y="63.0" textLength="22.9" lengthAdjust="spacingAndGlyphs">46%</text>
<text x="2294.8" y="107.0" textLength="22.9" lengthAdjust="spacingAndGlyphs">44%</text>
<text x="2294.8" y="152.0" textLength="22.9" lengthAdjust="spacingAndGlyphs">42%</text>
<text x="2294.8" y="196.0" textLength="22.9" lengthAdjust="spacingAndGlyphs">40%</text>
<text x="2294.8" y="240.0" textLength="22.9" lengthAdjust="spacingAndGlyphs">38%</text>
<text x="2294.8" y="284.0" textLength="22.9" lengthAdjust="spacingAndGlyphs">36%</text>
<text x="2294.8" y="329.0" textLength="22.9" lengthAdjust="spacingAndGlyphs">34%</text>
<text x="2294.8" y="373.0" textLength="22.9" lengthAdjust="spacingAndGlyphs">32%</text>
<text x="2294.8" y="417.0" textLength="22.9" lengthAdjust="spacingAndGlyphs">30%</text>
<text x="2294.8" y="461.0" textLength="22.9" lengthAdjust="spacingAndGlyphs">28%</text>
<text x="2294.8" y="505.0" textLength="22.9" lengthAdjust="spacingAndGlyphs">26%</text>
<text x="2294.8" y="550.0" textLength="22.9" lengthAdjust="spacingAndGlyphs">24%</text>
<text x="2294.8" y="594.0" textLength="22.9" lengthAdjust="spacingAndGlyphs">22%</text>
<text x="2294.8" y="638.0" textLength="22.9" lengthAdjust="spacingAndGlyphs">20%</text>
<text x="2294.8" y="682.0" textLength="22.9" lengthAdjust="spacingAndGlyphs">18%</text>
<text x="2294.8" y="727.0" textLength="22.9" lengthAdjust="spacingAndGlyphs">16%</text>
<text x="2294.8" y="771.0" textLength="22.9" lengthAdjust="spacingAndGlyphs">14%</text>
<text x="2294.8" y="815.0" textLength="22.9" lengthAdjust="spacingAndGlyphs">12%</text>
<text x="2294.8" y="859.0" textLength="22.9" lengthAdjust="spacingAndGlyphs">10%</text>
<text x="2294.8" y="903.0" textLength="16.6" lengthAdjust="spacingAndGlyphs">8%</text>
<text x="2294.8" y="948.0" textLength="16.6" lengthAdjust="spacingAndGlyphs">6%</text>
<text x="2294.8" y="992.0" textLength="16.6" lengthAdjust="spacingAndGlyphs">4%</text>
<text x="2294.8" y="1036.0" textLength="16.6" lengthAdjust="spacingAndGlyphs">2%</text>
<text x="2294.8" y="1080.0" textLength="16.6" lengthAdjust="spacingAndGlyphs">0%</text>
<text x="2290.5" y="1125.0" textLength="20.8" lengthAdjust="spacingAndGlyphs">-2%</text>
<text x="2290.5" y="1169.0" textLength="20.8" lengthAdjust="spacingAndGlyphs">-4%</text>
<text x="2290.5" y="1213.0" textLength="20.8" lengthAdjust="spacingAndGlyphs">-6%</text>
<text x="2290.5" y="1257.0" textLength="20.8" lengthAdjust="spacingAndGlyphs">-8%</text>
<rect x="973" y="1300" width="17" height="17" fill="#000"/>
<rect x="974" y="1301" width="15" height="15" fill="#470049"/>
<rect x="975" y="1302" width="13" height="13" fill="#400040"/>
<text x="993" y="1313" textLength="84.5" lengthAdjust="spacingAndGlyphs">Gesamtportfolio</text>
<rect x="1091" y="1300" width="17" height="17" fill="#000"/>
<rect x="1092" y="1301" width="15" height="15" fill="#008cff"/>
<rect x="1093" y="1302" width="13" height="13" fill="#0080ff"/>
<text x="1110.5" y="1313" textLength="33.5" lengthAdjust="spacingAndGlyphs">Aktien</text>
<rect x="1157" y="1300" width="17" height="17" fill="#000"/>
<rect x="1158" y="1301" width="15" height="15" fill="#008c00"/>
<rect x="1159" y="1302" width="13" height="13" fill="#008000"/>
<text x="1176.5" y="1313" textLength="55" lengthAdjust="spacingAndGlyphs">EM-Bonds</text>
<rect x="1244" y="1300" width="17" height="17" fill="#000"/>
<rect x="1245" y="1301" width="15" height="15" fill="#ff8c48"/>
<rect x="1246" y="1302" width="13" height="13" fill="#ff8040"/>
<text x="1263.5" y="1313" textLength="24" lengthAdjust="spacingAndGlyphs">Gold</text>
<rect x="1301" y="1300" width="17" height="17" fill="#000"/>
<rect x="1302" y="1301" width="15" height="15" fill="#e090f8"/>
<rect x="1303" y="1302" width="13" height="13" fill="#d088e8"/>
<text x="1320.5" y="1313" textLength="25" lengthAdjust="spacingAndGlyphs">Cash</text>
</svg></body></html>
